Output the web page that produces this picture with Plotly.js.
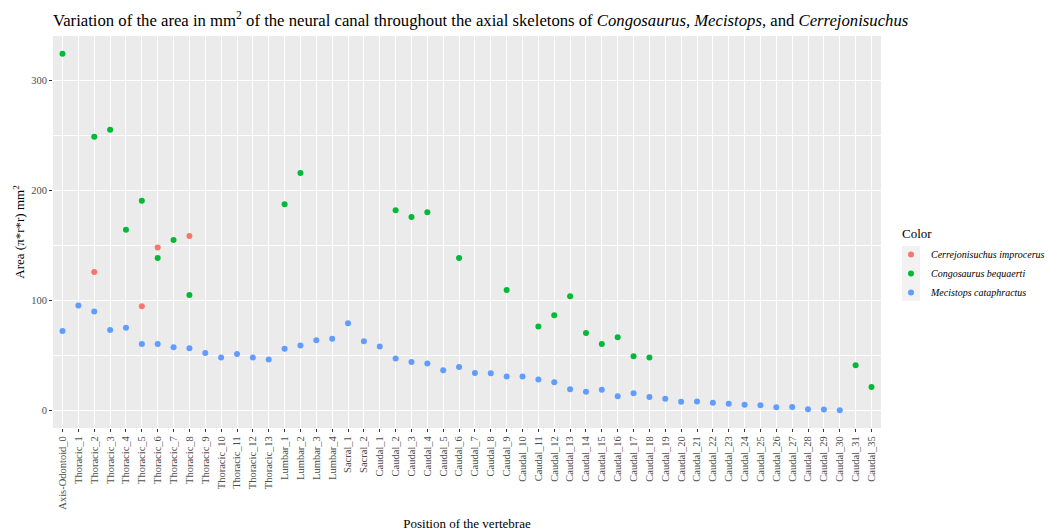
<!DOCTYPE html>
<html>
<head>
<meta charset="utf-8">
<script src="https://cdn.plot.ly/plotly-3.0.1.min.js"></script>
<style>html,body{margin:0;padding:0;background:#fff;}#chart{width:1049px;height:531px;}</style>
</head>
<body>
<div id="chart"></div>
<script>
var categories = ["Axis-Odontoid_0",
  "Thoracic_1","Thoracic_2","Thoracic_3","Thoracic_4","Thoracic_5","Thoracic_6","Thoracic_7",
  "Thoracic_8","Thoracic_9","Thoracic_10","Thoracic_11","Thoracic_12","Thoracic_13",
  "Lumbar_1","Lumbar_2","Lumbar_3","Lumbar_4","Sacral_1","Sacral_2",
  "Caudal_1","Caudal_2","Caudal_3","Caudal_4","Caudal_5","Caudal_6","Caudal_7","Caudal_8",
  "Caudal_9","Caudal_10","Caudal_11","Caudal_12","Caudal_13","Caudal_14","Caudal_15","Caudal_16",
  "Caudal_17","Caudal_18","Caudal_19","Caudal_20","Caudal_21","Caudal_22","Caudal_23","Caudal_24",
  "Caudal_25","Caudal_26","Caudal_27","Caudal_28","Caudal_29","Caudal_30","Caudal_31","Caudal_35"];

var cerrejonisuchus = [null,
  null,126.1,null,null,94.8,148.2,null,158.8,null,null,null,null,null,
  null,null,null,null,null,null,
  null,null,null,null,null,null,null,null,null,null,null,null,null,null,null,null,
  null,null,null,null,null,null,null,null,null,null,null,null,null,null,null,null];

var congosaurus = [324.5,
  null,249.0,255.5,164.5,190.9,138.8,155.2,105.2,null,null,null,null,null,
  187.6,216.0,null,null,null,null,
  null,182.1,176.1,180.3,null,138.8,null,null,109.7,null,76.4,86.7,103.9,70.6,60.6,66.7,
  49.4,48.2,null,null,null,null,null,null,null,null,null,null,null,null,41.2,21.5];

var mecistops = [72.4,
  95.5,90.0,73.3,75.2,60.6,60.6,57.6,56.7,52.4,48.2,51.5,48.2,46.4,
  56.1,59.1,63.9,65.3,79.4,63.0,
  58.2,47.3,44.2,42.7,36.7,39.7,34.2,33.9,30.9,30.9,28.2,25.8,19.4,17.0,18.8,13.0,
  15.8,12.4,10.6,7.9,8.2,7.0,6.1,5.2,4.8,3.0,3.3,1.2,0.9,0.3,null,null];

var seriesNames = ["Cerrejonisuchus improcerus","Congosaurus bequaerti","Mecistops cataphractus"];
var seriesColors = ["#F8766D","#00BA38","#619CFF"];
var seriesValues = [cerrejonisuchus, congosaurus, mecistops];

var serif = "Liberation Serif";

var traces = seriesValues.map(function(vals, i){
  return {
    type: "scatter", mode: "markers",
    x: categories, y: vals,
    name: "<i>" + seriesNames[i] + "</i>",
    marker: {color: seriesColors[i], size: 6},
    hoverinfo: "x+y+name"
  };
});

var layout = {
  width: 1049, height: 531,
  paper_bgcolor: "#FFFFFF", plot_bgcolor: "#EBEBEB",
  margin: {l: 53, r: 168, t: 36, b: 103},
  font: {family: serif, color: "#000000"},
  title: {
    text: "Variation of the area in mm<sup>2</sup> of the neural canal throughout the axial skeletons of <i>Congosaurus, Mecistops</i>, and <i>Cerrejonisuchus</i>",
    font: {family: serif, size: 16.7, color: "#000000"},
    xref: "container", x: 53/1049, xanchor: "left",
    yref: "container", y: 1 - 20/531, yanchor: "middle"
  },
  xaxis: {
    type: "category", categoryorder: "array", categoryarray: categories,
    range: [-0.6, 51.6],
    showgrid: true, gridcolor: "#FFFFFF", gridwidth: 1.1,
    zeroline: false, showline: false,
    ticks: "outside", ticklen: 3, tickwidth: 1, tickcolor: "#333333",
    tickangle: -90, tickfont: {family: serif, size: 10.5, color: "#4D4D4D"},
    automargin: false,
    title: {text: "Position of the vertebrae", font: {family: serif, size: 13, color: "#000000"}, standoff: 10}
  },
  yaxis: {
    range: [-15.9, 340.7],
    tickvals: [0, 100, 200, 300],
    showgrid: true, gridcolor: "#FFFFFF", gridwidth: 1.1,
    minor: {tickvals: [50, 150, 250], showgrid: true, gridcolor: "#FFFFFF", gridwidth: 0.5, ticks: ""},
    zeroline: false, showline: false,
    ticks: "outside", ticklen: 3, tickwidth: 1, tickcolor: "#333333",
    tickfont: {family: serif, size: 10.5, color: "#4D4D4D"},
    automargin: false,
    title: {text: "Area (π*r*r) mm<sup>2</sup>", font: {family: serif, size: 13, color: "#000000"}, standoff: 3}
  },
  showlegend: true,
  legend: {
    xref: "container", yref: "container",
    x: 891/1049, xanchor: "left", y: 1 - 240/531, yanchor: "top",
    bgcolor: "rgba(0,0,0,0)",
    font: {family: serif, size: 10, color: "#000000"},
    tracegroupgap: 0
  },
  annotations: [{
    text: "Color", showarrow: false,
    xref: "paper", yref: "paper",
    x: (900-53)/828, xanchor: "left", y: (428-234)/392, yanchor: "middle",
    font: {family: serif, size: 13, color: "#000000"}
  }],
  shapes: [{
    type: "rect", xref: "paper", yref: "paper", layer: "below",
    x0: (902-53)/828, x1: (920-53)/828, y0: (428-301)/392, y1: (428-246)/392,
    fillcolor: "#F2F2F2", line: {width: 0}
  }]
};

Plotly.newPlot("chart", traces, layout, {displayModeBar: false, responsive: false});
</script>
</body>
</html>
